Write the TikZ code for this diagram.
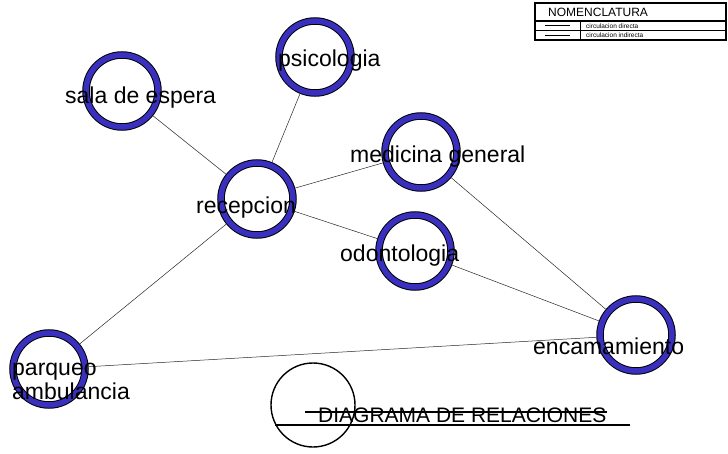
\documentclass[tikz,border=0pt]{standalone}
\usepackage{fontspec}
\setmainfont{Liberation Sans}
\usetikzlibrary{calc}
\definecolor{ringblue}{HTML}{3A30C0}
\definecolor{linkgray}{HTML}{262626}
\tikzset{
ring/.style={circle,draw=black,line width=1pt,double=ringblue,double distance=5.5pt,minimum size=72pt,inner sep=0pt,outer sep=3.7pt},
area/.style={font=\fontsize{23}{24}\selectfont,text=black,inner sep=0pt,anchor=base west},
link/.style={line width=.5pt,draw=linkgray},
legendtxt/.style={inner sep=0pt,anchor=west,text=black}}

\begin{document}
\begin{tikzpicture}[x=1pt,y=-1pt]
\useasboundingbox (0,0) rectangle (728,454);
% rings
\node[ring] (sala) at (122,91) {};
\node[ring] (psico) at (315,57) {};
\node[ring] (recep) at (257,199) {};
\node[ring] (medic) at (421,152) {};
\node[ring] (odonto) at (415,251) {};
\node[ring] (encama) at (636,335) {};
\node[ring] (parqueo) at (49,369) {};
% connectors
\draw[link] (sala)--(recep);
\draw[link] (psico)--(recep);
\draw[link] (recep)--(medic);
\draw[link] (recep)--(odonto);
\draw[link] (recep)--(parqueo);
\draw[link] (medic)--(encama);
\draw[link] (odonto)--(encama);
\draw[link] (parqueo)--(encama);
% labels
\node[area] (salatxt) at (65,104) {sala de espera};
\node[area] (psicotxt) at (278,67) {psicologia};
\node[area] (receptxt) at (196,214) {recepcion};
\node[area] (medictxt) at (350,163) {medicina general};
\node[area] (odontotxt) at (340,262) {odontologia};
\node[area] (encamatxt) at (533,354) {encamamiento};
\node[area,align=left] (parqueotxt) at (12,399) {parqueo\\ambulancia};
% title
\node[circle,draw=black,line width=1.4pt,minimum size=84pt,inner sep=0pt] (titlering) at (313,405) {};
\node[inner sep=0pt,anchor=base west,font=\fontsize{21}{22}\selectfont] (titletxt) at (318,422) {DIAGRAMA DE RELACIONES};
\coordinate (strikeA) at (305,412);
\draw[line width=1.2pt] (strikeA) -- (titletxt.east |- strikeA);
\coordinate (underA) at (275,425);
\coordinate (underB) at (630,425);
\draw[line width=2pt] (underA) -- (underB);
% nomenclature
\draw[line width=1.3pt] (535,3) rectangle (726,40);
\draw[line width=1.3pt] (535,21) -- (726,21);
\draw[line width=1pt] (535,30.5) -- (726,30.5);
\draw[line width=1pt] (580,21) -- (580,40);
\draw[line width=.8pt] (545,25.8) -- (570,25.8);
\draw[line width=.8pt] (545,35.2) -- (570,35.2);
\node[legendtxt,font=\fontsize{12}{13}\selectfont] (nomen) at (548,12) {NOMENCLATURA};
\node[legendtxt,font=\fontsize{6.5}{7}\selectfont] (direct) at (586,25.8) {circulacion directa};
\node[legendtxt,font=\fontsize{6.5}{7}\selectfont] (indirect) at (586,35.2) {circulacion indirecta};
\end{tikzpicture}
\end{document}
